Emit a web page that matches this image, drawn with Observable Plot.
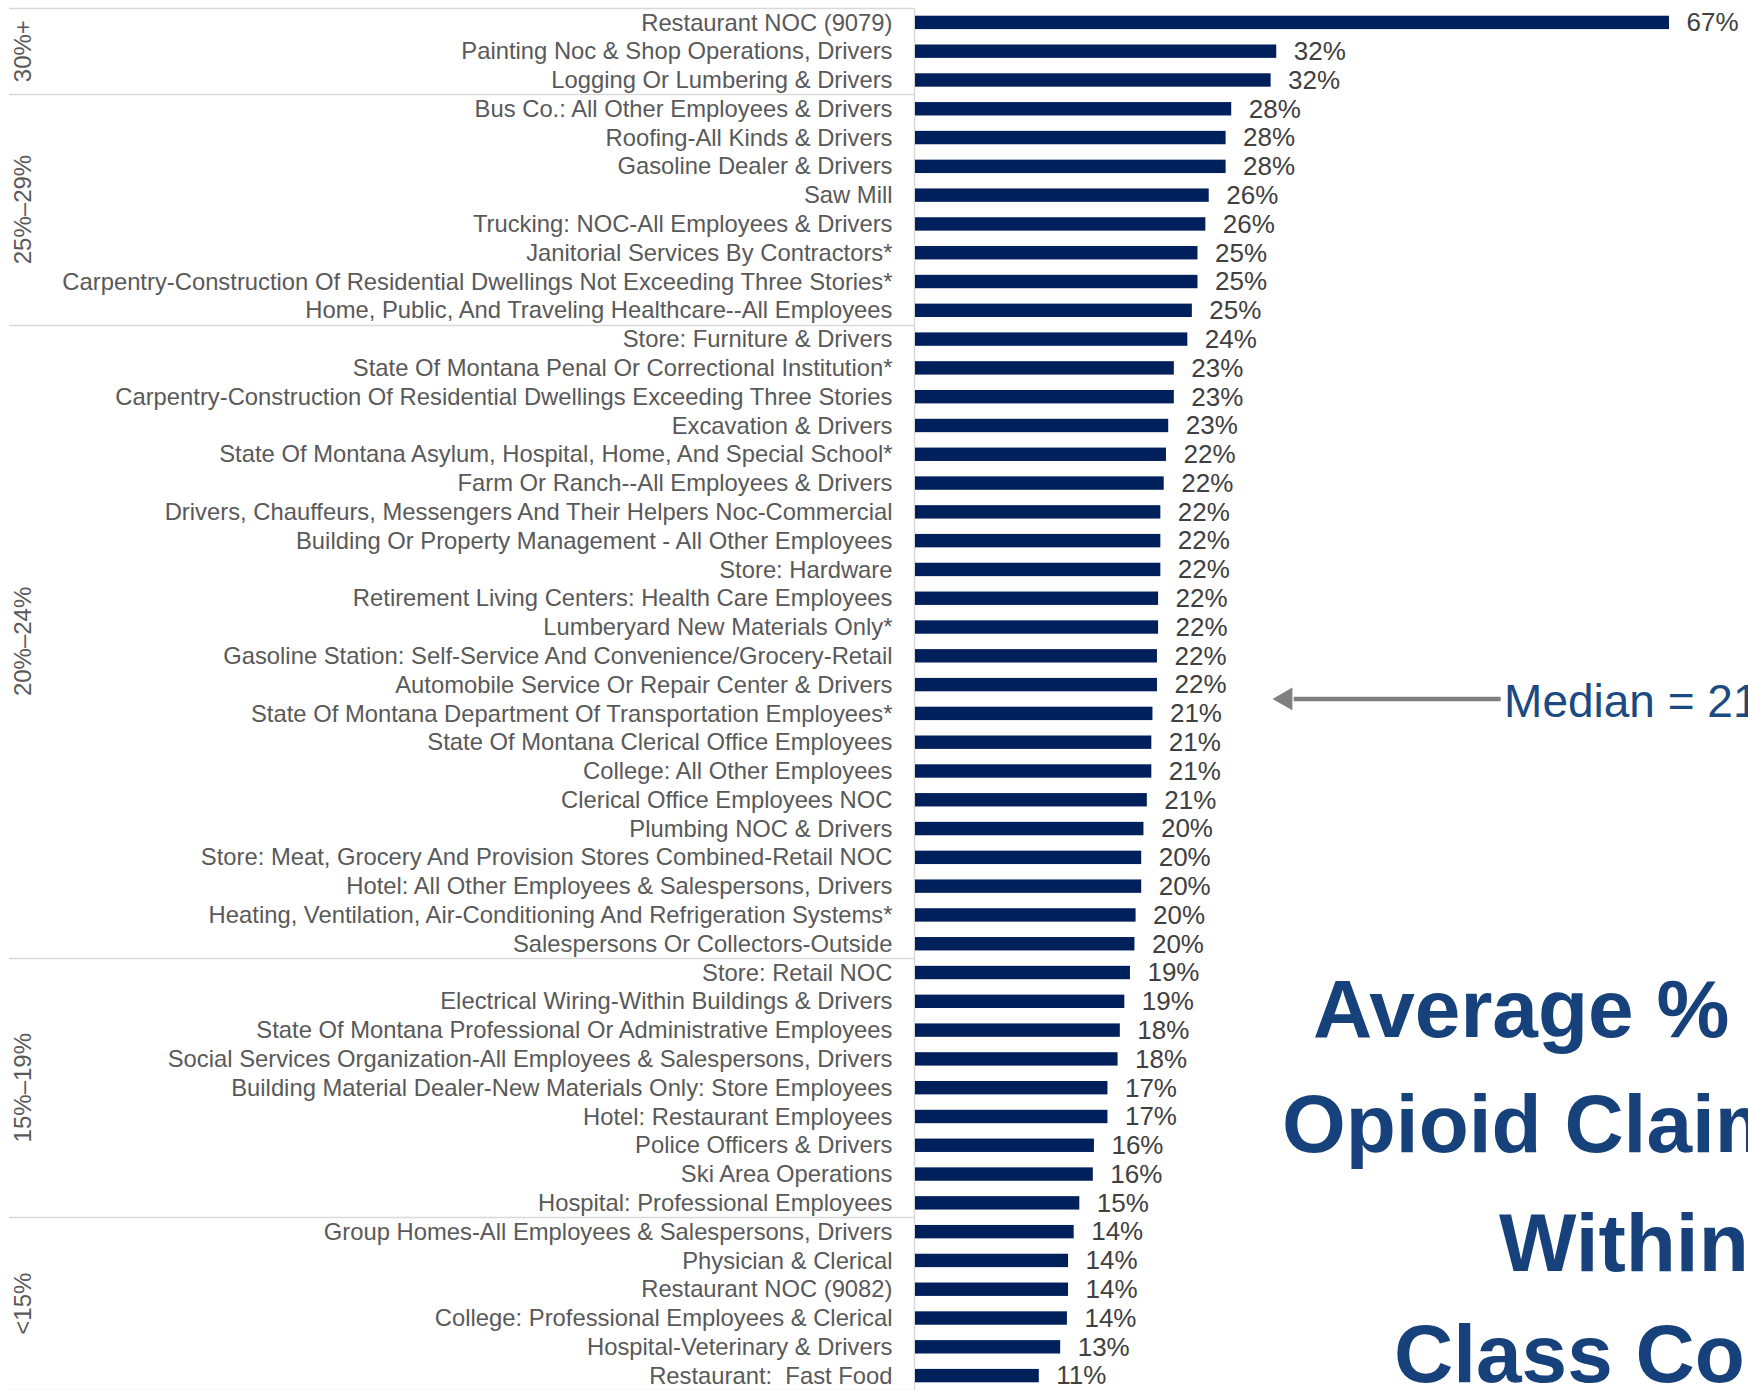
<!DOCTYPE html>
<html>
<head>
<meta charset="utf-8">
<script src="https://cdn.jsdelivr.net/npm/d3@7"></script>
<script src="https://cdn.jsdelivr.net/npm/@observablehq/plot@0.6"></script>
<style>
  html, body { margin: 0; padding: 0; overflow: hidden; background: #fff; }
  #chart svg { display: block; }
</style>
</head>
<body>
<div id="chart"></div>
<script>
// ---- data ----
const categories = [
  "Restaurant NOC (9079)",
  "Painting Noc & Shop Operations, Drivers",
  "Logging Or Lumbering & Drivers",
  "Bus Co.: All Other Employees & Drivers",
  "Roofing-All Kinds & Drivers",
  "Gasoline Dealer & Drivers",
  "Saw Mill",
  "Trucking: NOC-All Employees & Drivers",
  "Janitorial Services By Contractors*",
  "Carpentry-Construction Of Residential Dwellings Not Exceeding Three Stories*",
  "Home, Public, And Traveling Healthcare--All Employees",
  "Store: Furniture & Drivers",
  "State Of Montana Penal Or Correctional Institution*",
  "Carpentry-Construction Of Residential Dwellings Exceeding Three Stories",
  "Excavation & Drivers",
  "State Of Montana Asylum, Hospital, Home, And Special School*",
  "Farm Or Ranch--All Employees & Drivers",
  "Drivers, Chauffeurs, Messengers And Their Helpers Noc-Commercial",
  "Building Or Property Management - All Other Employees",
  "Store: Hardware",
  "Retirement Living Centers: Health Care Employees",
  "Lumberyard New Materials Only*",
  "Gasoline Station: Self-Service And Convenience/Grocery-Retail",
  "Automobile Service Or Repair Center & Drivers",
  "State Of Montana Department Of Transportation Employees*",
  "State Of Montana Clerical Office Employees",
  "College: All Other Employees",
  "Clerical Office Employees NOC",
  "Plumbing NOC & Drivers",
  "Store: Meat, Grocery And Provision Stores Combined-Retail NOC",
  "Hotel: All Other Employees & Salespersons, Drivers",
  "Heating, Ventilation, Air-Conditioning And Refrigeration Systems*",
  "Salespersons Or Collectors-Outside",
  "Store: Retail NOC",
  "Electrical Wiring-Within Buildings & Drivers",
  "State Of Montana Professional Or Administrative Employees",
  "Social Services Organization-All Employees & Salespersons, Drivers",
  "Building Material Dealer-New Materials Only: Store Employees",
  "Hotel: Restaurant Employees",
  "Police Officers & Drivers",
  "Ski Area Operations",
  "Hospital: Professional Employees",
  "Group Homes-All Employees & Salespersons, Drivers",
  "Physician & Clerical",
  "Restaurant NOC (9082)",
  "College: Professional Employees & Clerical",
  "Hospital-Veterinary & Drivers",
  "Restaurant:\u00a0 Fast Food"
];

// average % opioid claims within class code (percent)
const values = [
  67.0, 32.1, 31.6, 28.1, 27.6, 27.6, 26.1, 25.8, 25.1, 25.1, 24.6,
  24.2, 23.0, 23.0, 22.5, 22.3, 22.1, 21.8, 21.8, 21.8, 21.6, 21.6,
  21.5, 21.5, 21.1, 21.0, 21.0, 20.6, 20.3, 20.1, 20.1, 19.6, 19.5,
  19.1, 18.6, 18.2, 18.0, 17.1, 17.1, 15.9, 15.8, 14.6,
  14.1, 13.6, 13.6, 13.5, 12.9, 11.0
];

const groupLabels = ["30%+", "25%\u201329%", "20%\u201324%", "15%\u201319%", "<15%"];
const groupSizes  = [3, 8, 22, 9, 6];

const medianValue = 21;
const medianRow = "State Of Montana Department Of Transportation Employees*";
const titleLines = ["Average %", "Opioid Claims", "Within", "Class Code"];

// ---- build tables ----
const data = categories.map((name, i) => ({name, value: values[i]}));
const groups = [];
{
  let start = 0;
  groupLabels.forEach((label, g) => {
    groups.push({label, first: categories[start], last: categories[start + groupSizes[g] - 1]});
    start += groupSizes[g];
  });
}

const W = 1748, H = 1390;
const FONT = "'Liberation Sans', Arial, sans-serif";
const labelColor = "#595959";
const gridColor = "#d9d9d9";

// frame: group separators, group labels, divider line
function groupFrame(index, scales, values, dims) {
  const y = scales.y;
  const step = typeof y.step === "function" ? y.step() : y.step;
  const g = d3.create("svg:g");
  const left = 9, right = dims.marginLeft - 1;
  const edges = [];
  for (const gr of groups) edges.push(y(gr.first));
  edges.push(y(groups[groups.length - 1].last) + step);
  for (const e of edges) {
    g.append("line")
      .attr("x1", left).attr("x2", right)
      .attr("y1", Math.round(e) + 0.5).attr("y2", Math.round(e) + 0.5)
      .attr("stroke", gridColor).attr("stroke-width", 1.5);
  }
  g.append("line")
    .attr("x1", right + 0.5).attr("x2", right + 0.5)
    .attr("y1", edges[0]).attr("y2", edges[edges.length - 1])
    .attr("stroke", gridColor).attr("stroke-width", 1.5);
  for (const gr of groups) {
    const cy = (y(gr.first) + y(gr.last) + step) / 2;
    g.append("text")
      .attr("transform", `translate(22,${cy}) rotate(-90)`)
      .attr("text-anchor", "middle")
      .attr("dominant-baseline", "central")
      .attr("fill", labelColor)
      .attr("font-size", 24)
      .text(gr.label);
  }
  return g.node();
}

// title block (annotation)
function titleBlock(index, scales, values, dims) {
  const g = d3.create("svg:g")
    .attr("font-family", FONT)
    .attr("font-weight", "bold")
    .attr("font-size", 82)
    .attr("text-anchor", "start")
    .attr("fill", "#17417a");
  const xs = [1313, 1282, 1499, 1394];
  const ys = [1037, 1152, 1271, 1382];
  titleLines.forEach((t, i) => {
    g.append("text").attr("x", xs[i]).attr("y", ys[i]).text(t);
  });
  return g.node();
}

const chart = Plot.plot({
  width: W,
  height: H,
  marginLeft: 915,
  marginRight: 79,
  marginTop: 8,
  marginBottom: 0,
  style: {fontFamily: FONT, fontSize: "22px", background: "#fff", overflow: "hidden"},
  x: {domain: [0, 67], axis: null},
  y: {domain: categories, padding: 0, axis: null},
  marks: [
    groupFrame,
    Plot.text(data, {
      y: "name", text: "name", frameAnchor: "left", textAnchor: "end",
      dx: -23, fill: labelColor, fontSize: 23.8
    }),
    Plot.barX(data, {
      x: "value", y: "name", fill: "#00205b", insetTop: 7.7, insetBottom: 7.7
    }),
    Plot.text(data, {
      x: "value", y: "name", text: d => Math.round(d.value) + "%",
      textAnchor: "start", dx: 17, fill: "#404040", fontSize: 26
    }),
    // median annotation
    Plot.link([medianValue], {
      x1: 52.0, x2: 33.6, y1: () => medianRow, y2: () => medianRow, dy: -15,
      stroke: "#7f7f7f", strokeWidth: 4.5
    }),
    Plot.dot([medianValue], {
      x: 32.9, y: () => medianRow, dy: -15, symbol: "triangle", rotate: -90,
      r: 8.5, fill: "#7f7f7f", stroke: null
    }),
    Plot.text([medianValue], {
      x: 52.3, y: () => medianRow, dy: -12, text: d => `Median = ${d}%`,
      textAnchor: "start", fill: "#1b4a80", fontSize: 46
    }),
    titleBlock
  ]
});

document.getElementById("chart").appendChild(chart);
</script>
</body>
</html>
